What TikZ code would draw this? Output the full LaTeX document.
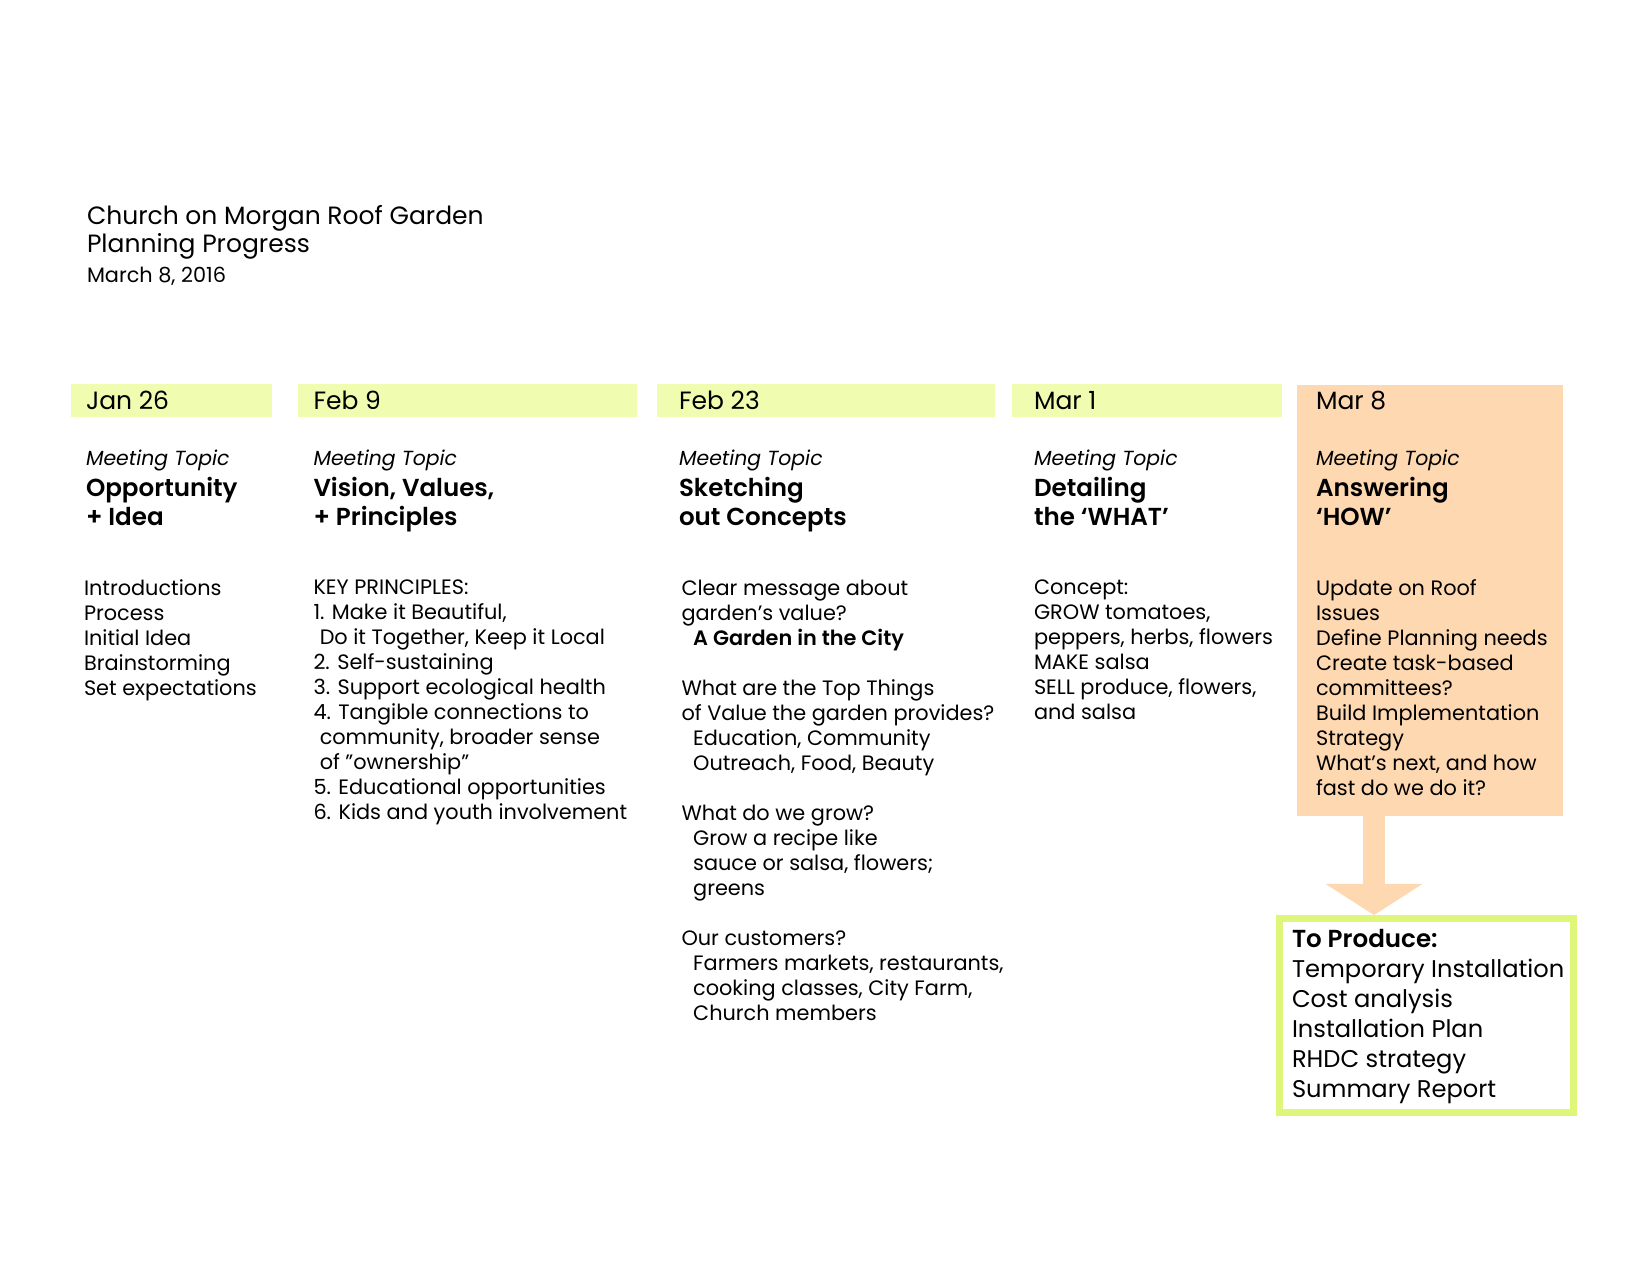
\documentclass[tikz,border=0pt]{standalone}
\usepackage{fontspec}
\setmainfont{Poppins}[BoldFont={Poppins SemiBold}]
\usetikzlibrary{arrows.meta, positioning, calc}

\definecolor{barfill}{RGB}{240,252,175}
\definecolor{howfill}{RGB}{253,216,176}
\definecolor{producedraw}{RGB}{222,247,122}

\begin{document}
\begin{tikzpicture}[x=0.48pt, y=-0.48pt,
    every node/.style={inner sep=0pt, outer sep=0pt},
    datebar/.style={fill=barfill, anchor=north west, minimum height=15.84pt},
    datetext/.style={anchor=base west, font=\fontsize{12}{15}\selectfont},
    topiclabel/.style={anchor=base west, font=\fontsize{9.8}{12}\selectfont\itshape},
    topictext/.style={anchor=north west, align=left, font=\fontsize{11.8}{14.1}\selectfont\bfseries},
    bodytext/.style={anchor=north west, align=left, font=\fontsize{10}{12}\selectfont},
    howarrow/.style={draw=howfill, line width=11pt,
        -{Triangle[width=46.5pt, length=14.9pt, line width=0pt]}}]
    \useasboundingbox (0,0) rectangle (1650,1275);

    % heading
    \node[anchor=north west, align=left, font=\fontsize{12}{13.6}\selectfont] (title) at (87,205.5)
        {Church on Morgan Roof Garden\\Planning Progress};
    \node[anchor=base west, font=\fontsize{10}{12}\selectfont] (when) at (87,282.7) {March 8, 2016};

    % date bars
    \node[datebar, minimum width=96.5pt] (janbar) at (70.5,384) {};
    \node[datebar, minimum width=162.7pt] (feb9bar) at (298,384) {};
    \node[datebar, minimum width=162.2pt] (feb23bar) at (657,384) {};
    \node[datebar, minimum width=129.6pt] (mar1bar) at (1012,384) {};
    \node[fill=howfill, anchor=north west, minimum width=127.9pt, minimum height=206.9pt] (how) at (1296.5,385) {};

    \node[datetext] (jan) at (86,409) {Jan 26};
    \node[datetext] (feb9) at (313.5,409) {Feb 9};
    \node[datetext] (feb23) at (679,409) {Feb 23};
    \node[datetext] (mar1) at (1034,409) {Mar 1};
    \node[datetext] (mar8) at (1316,409) {Mar 8};

    % meeting topics
    \foreach \col/\x in {jan/86, feb9/313.5, feb23/679, mar1/1034, mar8/1316}
        \node[topiclabel] (\col label) at (\x,465) {Meeting Topic};

    \node[topictext] (jantopic) at (86,477) {Opportunity\\+ Idea};
    \node[topictext] (feb9topic) at (313.5,477) {Vision, Values,\\+ Principles};
    \node[topictext] (feb23topic) at (679,477) {Sketching\\out Concepts};
    \node[topictext] (mar1topic) at (1034,477) {Detailing\\the ‘WHAT’};
    \node[topictext] (mar8topic) at (1316,477) {Answering\\‘HOW’};

    % notes
    \node[bodytext] (jannotes) at (84,579.6)
        {Introductions\\Process\\Initial Idea\\Brainstorming\\Set expectations};
    \node[bodytext] (feb9notes) at (313.5,579.6)
        {KEY PRINCIPLES:\\1. Make it Beautiful,\\\hspace*{3pt}Do it Together, Keep it Local\\
         2. Self-sustaining\\3. Support ecological health\\4. Tangible connections to\\
         \hspace*{3pt}community, broader sense\\\hspace*{3pt}of "ownership"\\
         5. Educational opportunities\\6. Kids and youth involvement};
    \node[bodytext] (feb23notes) at (681.5,579.6)
        {Clear message about\\garden’s value?\\\hspace*{5.6pt}\textbf{A Garden in the City}\\[12pt]
         What are the Top Things\\of Value the garden provides?\\
         \hspace*{5.6pt}Education, Community\\\hspace*{5.6pt}Outreach, Food, Beauty\\[12pt]
         What do we grow?\\\hspace*{5.6pt}Grow a recipe like\\
         \hspace*{5.6pt}sauce or salsa, flowers;\\\hspace*{5.6pt}greens\\[12pt]
         Our customers?\\\hspace*{5.6pt}Farmers markets, restaurants,\\
         \hspace*{5.6pt}cooking classes, City Farm,\\\hspace*{5.6pt}Church members};
    \node[bodytext] (mar1notes) at (1034,579.6)
        {Concept:\\GROW tomatoes,\\peppers, herbs, flowers\\MAKE salsa\\
         SELL produce, flowers,\\and salsa};
    \node[bodytext] (mar8notes) at (1316,579.6)
        {Update on Roof\\Issues\\Define Planning needs\\Create task-based\\committees?\\
         Build Implementation\\Strategy\\What’s next, and how\\fast do we do it?};

    % outcome
    \node[draw=producedraw, line width=3.1pt, minimum width=141.3pt, minimum height=93.3pt]
        (produce) at (1426.5,1015.5) {};
    \node[anchor=north west, align=left, font=\fontsize{11.6}{14.4}\selectfont] (producelist) at (1292,928.8)
        {\fontsize{11.8}{14.4}\selectfont\textbf{To Produce:}\\Temporary Installation\\Cost analysis\\Installation Plan\\
         RHDC strategy\\Summary Report};
    \coordinate (tip) at (1374,915);
    \draw[howarrow] (how.south -| tip) -- (tip);
\end{tikzpicture}
\end{document}
